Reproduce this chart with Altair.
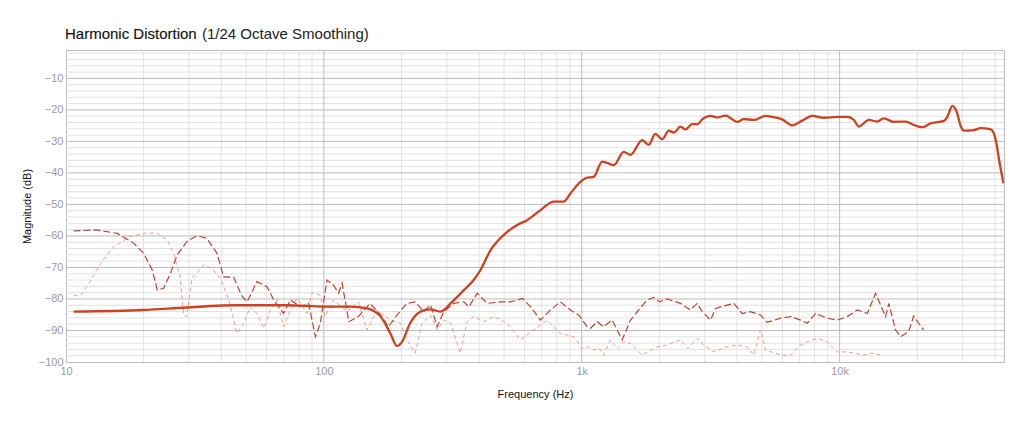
import altair as alt
import pandas as pd

# ---------------- data ----------------
main_f = [10.7, 20, 29.4, 46, 72, 100, 127, 147, 166, 181, 192, 201, 216, 237, 259, 283, 310, 349, 381, 405,
          443, 470, 514, 562, 614, 692, 779, 851, 904, 990, 1035, 1115, 1200, 1331, 1455, 1545, 1715, 1818,
          1930, 2050, 2176, 2277, 2415, 2525, 2680, 2805, 2932, 3158, 3352, 3608, 4006, 4250, 4646, 5157,
          5474, 5988, 6549, 7161, 7833, 8690, 9790, 10710, 11360, 11870, 12980, 13990, 14840, 16230, 18020,
          19410, 20910, 22520, 24270, 25410, 26170, 27360, 28440, 29480, 30370, 33210, 35250, 38560, 40330,
          41540, 43200]
main_db = [-84.0, -83.5, -82.7, -82.0, -82.0, -82.4, -82.4, -83.0, -85.6, -90.9, -94.9, -93.6, -87.7, -84.0,
           -83.3, -84.0, -81.4, -77.2, -74.0, -70.8, -64.5, -61.8, -58.7, -56.5, -55.0, -51.8, -49.1, -49.1,
           -46.5, -42.8, -41.7, -41.2, -36.4, -37.5, -33.3, -34.3, -29.6, -31.1, -27.6, -29.3, -26.6, -27.2,
           -25.3, -26.2, -24.5, -24.6, -23.0, -21.9, -22.4, -21.8, -23.8, -22.9, -23.2, -21.9, -22.2, -23.0,
           -24.9, -23.4, -21.9, -22.5, -22.2, -22.2, -23.2, -25.3, -23.2, -23.7, -22.7, -23.8, -23.7, -24.8,
           -25.5, -24.3, -23.8, -23.5, -22.2, -18.7, -20.6, -25.1, -26.6, -26.4, -25.8, -26.2, -29.6, -35.9,
           -43.3]

h2_f = [10.7, 13.2, 15.8, 18.3, 20, 21.6, 22.6, 23.9, 25.4, 27, 29.4, 32.2, 35.2, 38.5, 40.9, 44.7, 48.2,
        50.4, 55, 60.2, 63.9, 69.8, 74.1, 81, 87.3, 92.7, 96.9, 102.8, 109, 114, 117.7, 125, 136, 151, 166,
        178, 192, 210, 226, 244, 259, 275, 292, 319, 349, 365, 393, 430, 486, 531, 588, 634, 692, 745, 826,
        904, 973, 1049, 1082, 1148, 1216, 1312, 1435, 1545, 1663, 1794, 1902, 2000, 2143, 2415, 2640, 2805,
        2932, 3158, 3306, 3557, 3890, 4190, 4510, 4935, 5236, 5906, 6457, 7059, 7489, 8070, 8954, 9790,
        10710, 11700, 12800, 13780, 15070, 15520, 16470, 17230, 18550, 19360, 21150]
h2_db = [-58.4, -58.1, -59.2, -62.3, -65.5, -70.8, -77.2, -76.6, -71.9, -66.0, -61.8, -59.9, -60.8, -65.5,
         -73.0, -73.1, -79.3, -80.9, -74.5, -76.1, -80.3, -84.6, -80.3, -82.5, -81.4, -92.0, -87.7, -74.0,
         -75.6, -78.2, -75.0, -87.2, -85.6, -81.4, -85.1, -88.8, -85.1, -81.4, -80.9, -84.0, -81.9, -88.8,
         -84.0, -81.4, -80.9, -82.5, -78.2, -81.4, -80.9, -80.9, -79.8, -82.5, -86.7, -84.0, -80.9, -83.5,
         -85.1, -88.8, -89.3, -87.2, -88.8, -86.7, -93.0, -86.7, -83.5, -80.3, -79.5, -80.9, -80.0, -81.4,
         -83.5, -81.4, -84.0, -86.7, -83.0, -82.2, -81.4, -84.6, -84.0, -85.1, -87.4, -86.1, -85.6, -86.7,
         -87.7, -84.6, -86.1, -86.7, -85.6, -83.5, -84.6, -78.2, -85.6, -81.4, -89.8, -92.0, -90.3, -85.4,
         -89.8]

h3_f = [10.7, 11.5, 12.4, 13.6, 15.3, 17.7, 20.6, 22.6, 24.7, 26.1, 27.7, 28.6, 29.4, 30.8, 34.2, 36.8,
        39.7, 42.8, 46, 48.9, 51.9, 55, 58.5, 62, 65.8, 69.8, 74.1, 78.7, 86.1, 90, 96.9, 101, 109, 123, 136,
        147, 161, 181, 198, 210, 226, 240, 259, 275, 292, 310, 338, 359, 381, 417, 456, 514, 578, 652, 735,
        826, 931, 1004, 1049, 1115, 1171, 1216, 1291, 1371, 1455, 1545, 1715, 1958, 2143, 2415, 2580, 2805,
        2974, 3253, 3664, 4006, 4375, 4646, 4935, 5157, 5906, 6457, 7059, 7489, 8185, 8954, 9790, 10710,
        12420, 13180, 14420]
h3_db = [-79.0, -78.5, -74.5, -68.7, -63.4, -60.2, -59.0, -59.2, -61.3, -65.5, -73.0, -85.1, -85.6, -73.4,
         -69.2, -70.3, -73.4, -80.3, -90.9, -87.7, -82.5, -84.6, -89.3, -83.5, -80.3, -88.8, -83.5, -79.8,
         -84.6, -78.0, -78.8, -85.6, -80.3, -84.0, -80.9, -89.8, -83.5, -86.7, -87.7, -93.0, -97.2, -87.7,
         -85.1, -89.8, -86.7, -87.7, -97.2, -87.2, -85.6, -87.2, -85.6, -87.7, -93.0, -89.8, -86.7, -90.9,
         -92.0, -95.7, -95.2, -96.2, -95.7, -97.8, -93.0, -95.7, -93.6, -94.1, -97.8, -95.2, -94.6, -93.0,
         -95.7, -92.5, -94.6, -96.8, -95.2, -94.6, -95.2, -97.8, -89.8, -96.2, -97.8, -97.8, -94.6, -93.6,
         -92.5, -93.6, -96.8, -96.8, -97.8, -97.2, -97.8]

x_major_grid = [100, 1000, 10000]
x_minor_grid = [20, 30, 40, 50, 60, 70, 80, 90,
                200, 300, 400, 500, 600, 700, 800, 900,
                2000, 3000, 4000, 5000, 6000, 7000, 8000, 9000,
                20000, 30000, 40000]
y_major_grid = [-90, -80, -70, -60, -50, -40, -30, -20, -10]
y_minor_grid = [v for v in range(-98, 0, 2) if v % 10 != 0]

x_tick_values = [10, 100, 1000, 10000]
y_tick_values = [-100, -90, -80, -70, -60, -50, -40, -30, -20, -10]

title_main = "Harmonic Distortion"
title_sub = "(1/24 Octave Smoothing)"

# ---------------- chart ----------------
FONT = "Liberation Sans"
xs = alt.Scale(type="log", domain=[10, 43400], nice=False)
ys = alt.Scale(domain=[-100, -1], nice=False, zero=False)

XA = alt.Axis(values=x_tick_values, grid=False, ticks=False, domain=False,
              labelExpr="datum.value >= 1000 ? (datum.value / 1000) + 'k' : datum.value",
              labelFlush=False, labelPadding=3, title="Frequency (Hz)", titlePadding=12)
YA = alt.Axis(values=y_tick_values, grid=False, ticks=False, domain=False,
              labelPadding=3, title="Magnitude (dB)", titlePadding=6)


def grid_x(vals, color):
    return alt.Chart(pd.DataFrame({"f": vals})).mark_rule(color=color, strokeWidth=1).encode(
        x=alt.X("f:Q", scale=xs, axis=XA))


def grid_y(vals, color):
    return alt.Chart(pd.DataFrame({"db": vals})).mark_rule(color=color, strokeWidth=1).encode(
        y=alt.Y("db:Q", scale=ys, axis=YA))


g_xmin = grid_x(x_minor_grid, "#e2e2e2")
g_ymin = grid_y(y_minor_grid, "#e2e2e2")
g_xmaj = grid_x(x_major_grid, "#bcbcbc")
g_ymaj = grid_y(y_major_grid, "#bcbcbc")


def series(fs, dbs, color, width, dash=None, interp="monotone"):
    df = pd.DataFrame({"f": fs, "db": dbs})
    kw = dict(color=color, strokeWidth=width, clip=True, interpolate=interp)
    if dash:
        kw["strokeDash"] = dash
    return alt.Chart(df).mark_line(**kw).encode(
        x=alt.X("f:Q", scale=xs, axis=XA),
        y=alt.Y("db:Q", scale=ys, axis=YA),
        order="f:Q",
    )


l_h3 = series(h3_f, h3_db, "#e8947f", 0.9, dash=[4, 3], interp="linear")
l_h2 = series(h2_f, h2_db, "#bf4430", 1.2, dash=[7, 3], interp="linear")
l_main = series(main_f, main_db, "#cd4220", 2.3, interp="monotone")

tdf = pd.DataFrame({"a": [title_main], "b": [title_sub]})
t1 = alt.Chart(tdf).mark_text(align="left", baseline="alphabetic", font=FONT, fontSize=15,
                              color="#111111", stroke="#111111", strokeWidth=0.15).encode(
    x=alt.value(-1), y=alt.value(-11), text="a:N")
t2 = alt.Chart(tdf).mark_text(align="left", baseline="alphabetic", font=FONT, fontSize=15,
                              color="#222222").encode(
    x=alt.value(136), y=alt.value(-11), text="b:N")

chart = alt.layer(g_xmin, g_ymin, g_xmaj, g_ymaj, l_h3, l_h2, l_main, t1, t2).properties(
    width=938, height=312,
    autosize=alt.AutoSizeParams(type="none"),
    padding={"left": 58, "top": 42, "right": 10, "bottom": 50},
).configure_view(stroke="#bcbcbc", strokeWidth=1).configure_axis(
    labelFont=FONT, labelFontSize=11, labelColor="#9a9a9a",
    titleFont=FONT, titleFontSize=11, titleColor="#111111", titleFontWeight="normal",
)

chart.save("out.html", embed_options={"renderer": "svg", "actions": False})
